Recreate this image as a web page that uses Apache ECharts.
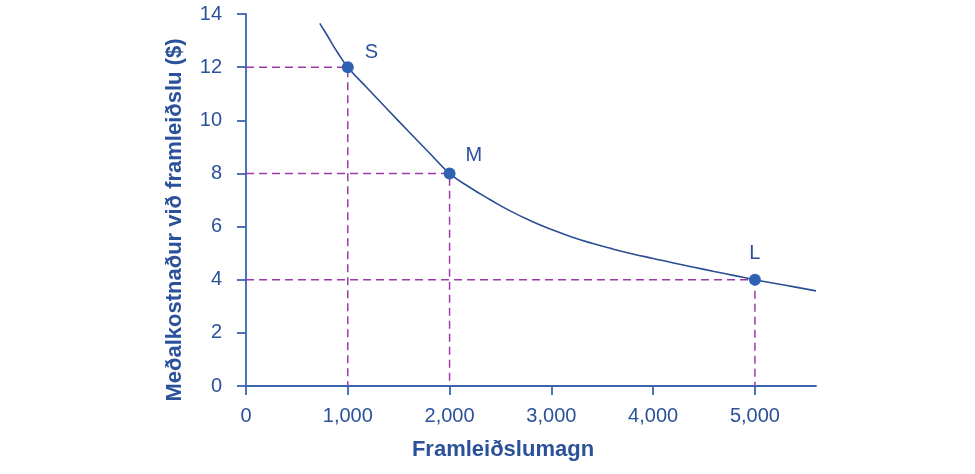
<!DOCTYPE html>
<html>
<head>
<meta charset="utf-8">
<script src="https://cdn.jsdelivr.net/npm/echarts@6/dist/echarts.min.js"></script>
<style>
html,body{margin:0;padding:0;background:#fff;}
#chart{width:975px;height:474px;}
</style>
</head>
<body>
<div id="chart"></div>
<script>
// Average cost curve
var curveX = [725, 800, 900, 1000, 1200, 1400, 1600, 1800, 2000, 2200, 2400, 2600, 2800, 3000, 3200, 3400, 3600, 3800, 4000, 4200, 4400, 4600, 4800, 5000, 5200, 5400, 5600];
var curveY = [13.65, 13.18, 12.55, 12.00, 11.18, 10.37, 9.57, 8.78, 8.00, 7.47, 7.01, 6.58, 6.21, 5.89, 5.61, 5.37, 5.16, 4.97, 4.80, 4.63, 4.47, 4.31, 4.155, 4.00, 3.86, 3.72, 3.58];
// Labelled points
var pointNames = ['S', 'M', 'L'];
var pointX = [1000, 2000, 5000];
var pointY = [12, 8, 4];
// Axis ticks
var xTicks = [0, 1000, 2000, 3000, 4000, 5000];
var yTicks = [0, 2, 4, 6, 8, 10, 12, 14];
var xTitle = 'Framleiðslumagn';
var yTitle = 'Meðalkostnaður við framleiðslu ($)';

var textColor = '#2b519b';
var axisColor = '#3d65ad';
var font = '"Liberation Sans", Arial, sans-serif';

var chart = echarts.init(document.getElementById('chart'), null, {renderer: 'canvas'});

var curveData = curveX.map(function (x, i) { return [x, curveY[i]]; });
var labelStyles = [
  {position: 'right', offset: [6, -15]},
  {position: 'right', offset: [5, -18]},
  {position: 'top', offset: [0, -5]}
];
var pointData = pointX.map(function (x, i) {
  return {name: pointNames[i], value: [x, pointY[i]], label: labelStyles[i]};
});

var guideSeries = pointX.map(function (x, i) {
  return {
    type: 'line',
    data: [[0, pointY[i]], [x, pointY[i]], [x, 0]],
    symbol: 'none',
    lineStyle: {color: '#9d3aa8', width: 1.5, type: [8, 5]},
    z: 1,
    silent: true,
    animation: false
  };
});

var option = {
  backgroundColor: '#ffffff',
  animation: false,
  grid: {left: 246, right: 159, top: 14, bottom: 88, containLabel: false},
  xAxis: {
    type: 'value',
    min: 0,
    max: 5600,
    interval: 1000,
    axisLine: {show: true, lineStyle: {color: axisColor, width: 1.8}},
    axisTick: {show: true, length: 9, inside: false, customValues: xTicks, lineStyle: {color: axisColor, width: 1.8}},
    axisLabel: {
      customValues: xTicks,
      margin: 20,
      color: textColor,
      fontFamily: font,
      fontSize: 20,
      formatter: function (v) { return Number(v).toLocaleString('en-US'); }
    },
    splitLine: {show: false}
  },
  yAxis: {
    type: 'value',
    min: 0,
    max: 14,
    interval: 2,
    axisLine: {show: true, lineStyle: {color: axisColor, width: 1.8}},
    axisTick: {show: true, length: 9, inside: false, customValues: yTicks, lineStyle: {color: axisColor, width: 1.8}},
    axisLabel: {
      customValues: yTicks,
      margin: 24,
      color: textColor,
      fontFamily: font,
      fontSize: 20
    },
    splitLine: {show: false}
  },
  graphic: [
    {
      type: 'text',
      x: 503,
      y: 450,
      style: {
        text: xTitle,
        fill: textColor,
        font: 'bold 22px ' + font,
        textAlign: 'center',
        textVerticalAlign: 'middle'
      }
    },
    {
      type: 'text',
      x: 175,
      y: 220,
      rotation: Math.PI / 2,
      style: {
        text: yTitle,
        fill: textColor,
        font: 'bold 22px ' + font,
        textAlign: 'center',
        textVerticalAlign: 'middle'
      }
    }
  ],
  series: guideSeries.concat([
    {
      type: 'line',
      data: curveData,
      smooth: 0.5,
      symbol: 'none',
      lineStyle: {color: '#2a4e93', width: 1.6},
      z: 3,
      silent: true
    },
    {
      type: 'scatter',
      data: pointData,
      symbol: 'circle',
      symbolSize: 12,
      itemStyle: {color: '#2f62b2', opacity: 1},
      z: 5,
      label: {
        show: true,
        formatter: '{b}',
        color: textColor,
        fontFamily: font,
        fontSize: 20,
        textBorderWidth: 0
      }
    }
  ])
};

chart.setOption(option);
</script>
</body>
</html>
